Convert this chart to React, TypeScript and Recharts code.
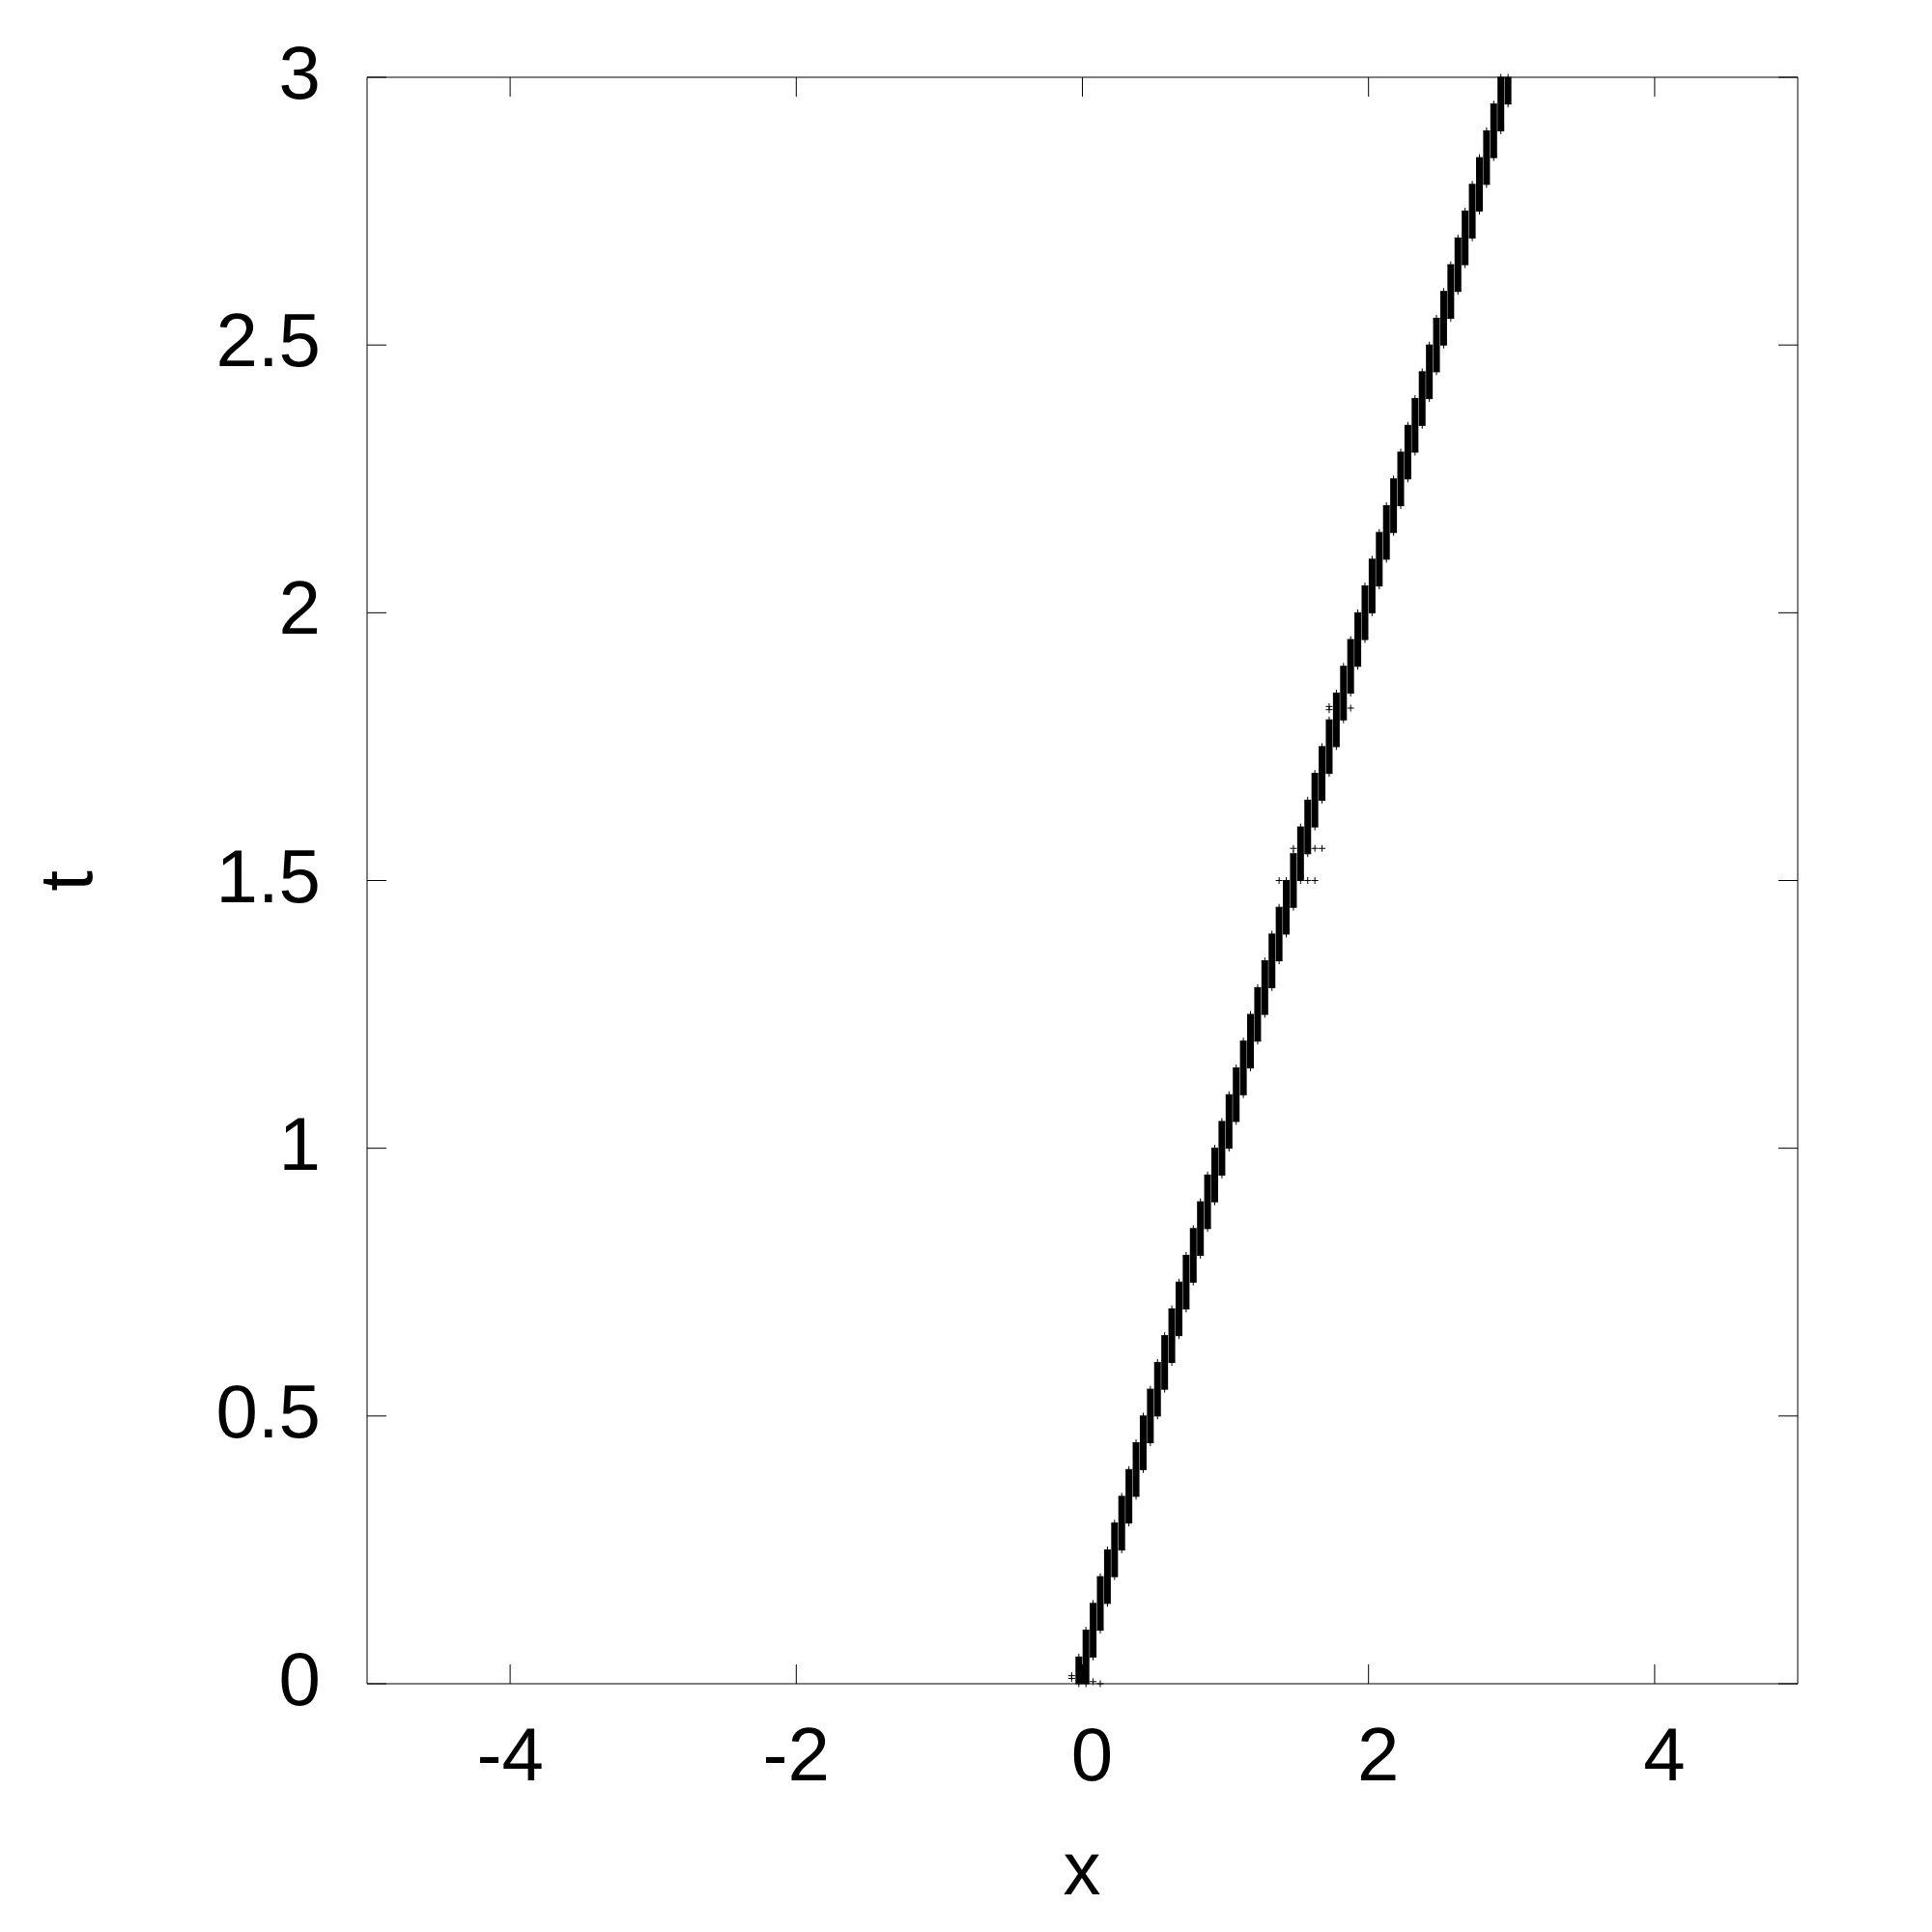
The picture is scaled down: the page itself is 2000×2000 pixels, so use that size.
import { ScatterChart, Scatter, XAxis, YAxis, ErrorBar, ReferenceArea, Label } from 'recharts';

// staircase columns: each column is a dense run of "+" points at one x
const columnX = [
  -0.025, 0.025, 0.075, 0.125, 0.175, 0.225, 0.275, 0.325, 0.375, 0.425, 0.475,
  0.525, 0.575, 0.625, 0.675, 0.725, 0.775, 0.825, 0.875, 0.925, 0.975,
  1.025, 1.075, 1.125, 1.175, 1.225, 1.275, 1.325, 1.375, 1.425, 1.475,
  1.525, 1.575, 1.625, 1.675, 1.725, 1.775, 1.825, 1.875, 1.925, 1.975,
  2.025, 2.075, 2.125, 2.175, 2.225, 2.275, 2.325, 2.375, 2.425, 2.475,
  2.525, 2.575, 2.625, 2.675, 2.725, 2.775, 2.825, 2.875, 2.925, 2.975,
];
const columnStart = [
  0, 0, 0.05, 0.1, 0.15, 0.2, 0.25, 0.3, 0.35, 0.4, 0.45,
  0.5, 0.55, 0.6, 0.65, 0.7, 0.75, 0.8, 0.85, 0.9, 0.95,
  1.0, 1.05, 1.1, 1.15, 1.2, 1.25, 1.3, 1.35, 1.4, 1.45,
  1.5, 1.55, 1.6, 1.65, 1.7, 1.75, 1.8, 1.85, 1.9, 1.95,
  2.0, 2.05, 2.1, 2.15, 2.2, 2.25, 2.3, 2.35, 2.4, 2.45,
  2.5, 2.55, 2.6, 2.65, 2.7, 2.75, 2.8, 2.85, 2.9, 2.95,
];
const columnEnd = [
  0.05, 0.1, 0.15, 0.2, 0.25, 0.3, 0.35, 0.4, 0.45, 0.5, 0.55,
  0.6, 0.65, 0.7, 0.75, 0.8, 0.85, 0.9, 0.95, 1.0, 1.05,
  1.1, 1.15, 1.2, 1.25, 1.3, 1.35, 1.4, 1.45, 1.5, 1.55,
  1.6, 1.65, 1.7, 1.75, 1.8, 1.85, 1.9, 1.95, 2.0, 2.05,
  2.1, 2.15, 2.2, 2.25, 2.3, 2.35, 2.4, 2.45, 2.5, 2.55,
  2.6, 2.65, 2.7, 2.75, 2.8, 2.85, 2.9, 2.95, 3.0, 3.0,
];

// stray points off the staircase
const strayX = [-0.075, -0.075, 0.075, 0.125, 1.375, 1.575, 1.625, 1.475, 1.625, 1.675, 1.725, 1.725, 1.875];
const strayT = [0.01, 0.015, 0.004, 0.0, 1.5, 1.5, 1.5, 1.56, 1.56, 1.56, 1.819, 1.825, 1.822];

const xTicks = [-4, -2, 0, 2, 4];
const tTicks = [0, 0.5, 1, 1.5, 2, 2.5, 3];

const columns = columnX.map((x, i) => ({ x, t: columnStart[i], span: [0, columnEnd[i] - columnStart[i]] }));
const columnBottoms = columnX.map((x, i) => ({ x, t: columnStart[i] }));
const columnTops = columnX.map((x, i) => ({ x, t: columnEnd[i] }));
const strays = strayX.map((x, i) => ({ x, t: strayT[i] }));

const LEFT = 380;
const RIGHT = 1861;
const TOP = 80;
const BOTTOM = 1743;
const FONT = '"Liberation Sans", Arial, sans-serif';
const FONT_SIZE = 78;

const Plus = (props: any) => {
  const { cx, cy } = props;
  if (cx == null || cy == null) return <g />;
  return (
    <g stroke="#000" strokeWidth={1}>
      <line x1={cx - 3.5} x2={cx + 3.5} y1={cy} y2={cy} />
      <line x1={cx} x2={cx} y1={cy - 3.5} y2={cy + 3.5} />
    </g>
  );
};

const Empty = () => <g />;

const XTick = (props: any) => {
  const { x, payload } = props;
  // gnuplot leaves room for the sign, so unsigned labels sit a little right
  const shift = payload.value >= 0 ? 10 : 0;
  return (
    <g>
      <line x1={x} x2={x} y1={BOTTOM} y2={BOTTOM - 20} stroke="#000" />
      <line x1={x} x2={x} y1={TOP} y2={TOP + 20} stroke="#000" />
      <text x={x + shift} y={1843} textAnchor="middle" fontFamily={FONT} fontSize={FONT_SIZE} fill="#000">
        {payload.value}
      </text>
    </g>
  );
};

const YTick = (props: any) => {
  const { y, payload } = props;
  return (
    <g>
      <line x1={LEFT} x2={LEFT + 20} y1={y} y2={y} stroke="#000" />
      <line x1={RIGHT} x2={RIGHT - 20} y1={y} y2={y} stroke="#000" />
      <text x={332} y={y + 22} textAnchor="end" fontFamily={FONT} fontSize={FONT_SIZE} fill="#000">
        {payload.value}
      </text>
    </g>
  );
};

export default function App() {
  return (
    <div style={{ position: 'absolute', left: 0, top: 0, width: 2000, height: 2000, background: '#fff' }}>
      <ScatterChart width={2000} height={2000} margin={{ top: TOP, right: 2000 - RIGHT, left: 0, bottom: 0 }}>
        <XAxis
          type="number"
          dataKey="x"
          domain={[-5, 5]}
          ticks={xTicks}
          height={2000 - BOTTOM}
          axisLine={false}
          tickLine={false}
          tick={<XTick />}
        >
          <Label
            content={() => (
              <text x={1120} y={1961} textAnchor="middle" fontFamily={FONT} fontSize={FONT_SIZE} fill="#000">
                x
              </text>
            )}
          />
        </XAxis>
        <YAxis
          type="number"
          dataKey="t"
          domain={[0, 3]}
          ticks={tTicks}
          width={LEFT}
          axisLine={false}
          tickLine={false}
          tick={<YTick />}
        >
          <Label
            content={() => (
              <text
                x={95}
                y={912}
                transform="rotate(-90, 95, 912)"
                textAnchor="middle"
                fontFamily={FONT}
                fontSize={FONT_SIZE}
                fill="#000"
              >
                t
              </text>
            )}
          />
        </YAxis>
        <ReferenceArea x1={-5} x2={5} y1={0} y2={3} fill="none" stroke="#000" strokeWidth={1} ifOverflow="visible" />
        <Scatter data={columns} shape={<Empty />} isAnimationActive={false}>
          <ErrorBar dataKey="span" direction="y" width={0} strokeWidth={7} stroke="#000" isAnimationActive={false} />
        </Scatter>
        <Scatter data={columnBottoms} shape={<Plus />} isAnimationActive={false} />
        <Scatter data={columnTops} shape={<Plus />} isAnimationActive={false} />
        <Scatter data={strays} shape={<Plus />} isAnimationActive={false} />
      </ScatterChart>
    </div>
  );
}
